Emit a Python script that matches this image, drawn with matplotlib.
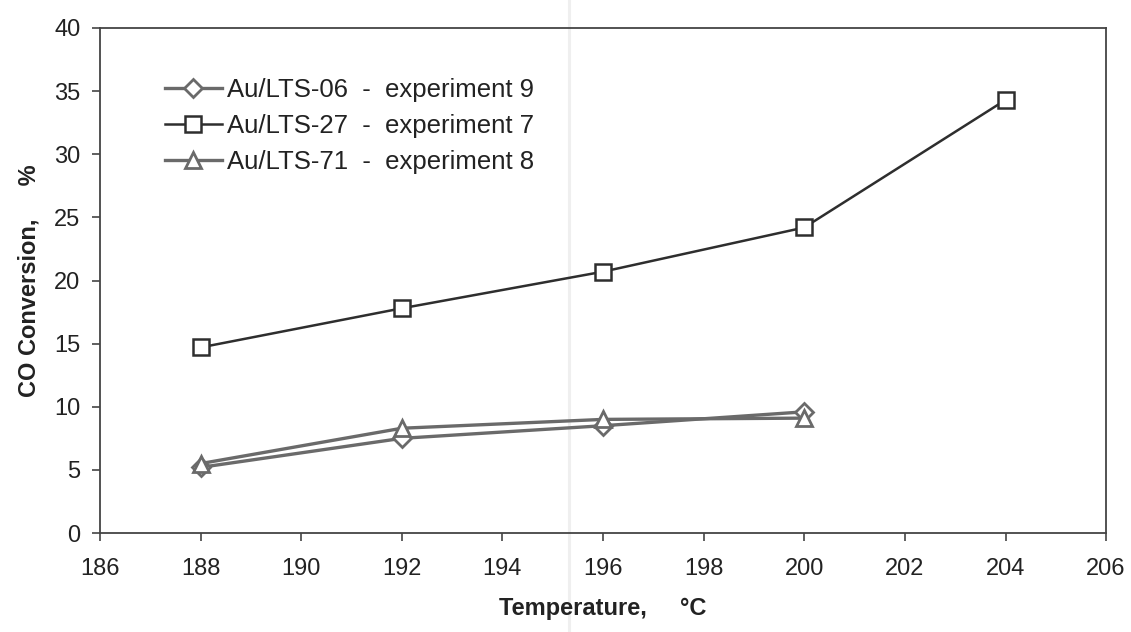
import matplotlib
matplotlib.use("Agg")
import matplotlib.pyplot as plt
from matplotlib.lines import Line2D

# Data: CO conversion (%) vs. temperature (°C)
temp_06 = [188, 192, 196, 200]
conv_06 = [5.2, 7.5, 8.5, 9.6]

temp_27 = [188, 192, 196, 200, 204]
conv_27 = [14.7, 17.8, 20.7, 24.2, 34.3]

temp_71 = [188, 192, 196, 200]
conv_71 = [5.5, 8.3, 9.0, 9.1]

labels = ["Au/LTS-06  -  experiment 9",
          "Au/LTS-27  -  experiment 7",
          "Au/LTS-71  -  experiment 8"]

x_ticks = list(range(186, 207, 2))
y_ticks = list(range(0, 41, 5))

plt.rcParams['font.family'] = ['Liberation Sans', 'DejaVu Sans']

fig = plt.figure(figsize=(11.31, 6.32), dpi=100)
ax = fig.add_axes([0.0884, 0.1566, 0.978 - 0.0884, 0.9557 - 0.1566])

# faint paper fold running down the page
fig.add_artist(Line2D([0.503, 0.503], [0, 1], transform=fig.transFigure,
                      color='#efefef', lw=2.2, zorder=0))
ax.set_facecolor('none')

grey = "#6a6a6a"
dark = "#2e2e2e"

ax.plot(temp_06, conv_06, color=grey, lw=2.4, marker='D', ms=9,
        mfc='white', mec=grey, mew=2.0, label=labels[0], zorder=3)
ax.plot(temp_27, conv_27, color=dark, lw=1.8, marker='s', ms=12,
        mfc='white', mec=dark, mew=1.8, label=labels[1], zorder=4)
ax.plot(temp_71, conv_71, color=grey, lw=2.4, marker='^', ms=11,
        mfc='white', mec=grey, mew=2.0, label=labels[2], zorder=3)

ax.set_xlim(186, 206)
ax.set_ylim(0, 40)
ax.set_xticks(x_ticks)
ax.set_yticks(y_ticks)

ax.tick_params(direction='out', length=6, width=1.2, color='#444444',
               labelcolor='#222222', labelsize=17)
ax.tick_params(axis='x', pad=12)
ax.tick_params(axis='y', pad=8)

for sp in ax.spines.values():
    sp.set_color('#444444')
    sp.set_linewidth(1.3)

ax.set_xlabel("Temperature,     °C", fontsize=17, fontweight='bold',
              color='#222222', labelpad=12)
ax.set_ylabel("CO Conversion,     %", fontsize=17, fontweight='bold',
              color='#222222', labelpad=10)

leg = ax.legend(loc='upper left', bbox_to_anchor=(0.0544, 0.921), frameon=False,
                fontsize=18.5, handlelength=2.2, handletextpad=0.23,
                labelspacing=0.46, borderaxespad=0)
for t in leg.get_texts():
    t.set_color('#222222')

fig.savefig("out.png", dpi=100, facecolor='white')
